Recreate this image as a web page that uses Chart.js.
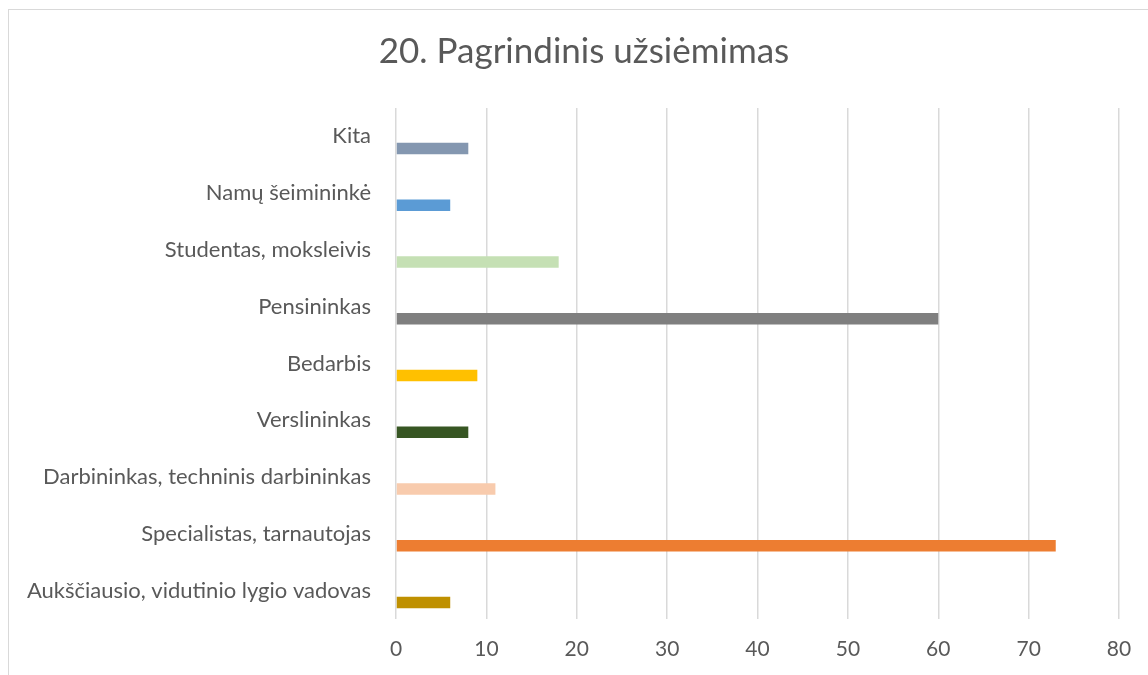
<!DOCTYPE html>
<html>
<head>
<meta charset="utf-8">
<script src="https://cdn.jsdelivr.net/npm/chart.js@4"></script>
<style>
  html, body { margin: 0; padding: 0; background: #fff; overflow: hidden; }
  #frame {
    position: absolute; left: 8px; top: 9px;
    width: 1150px; height: 680px;
    border: 1px solid #D9D9D9; background: #fff;
  }
</style>
</head>
<body>
<div id="frame"><canvas id="chart" width="1150" height="680"></canvas></div>
<script>
// categories top to bottom, as in the picture
const categories = [
    "Kita",
    "Namų šeimininkė",
    "Studentas, moksleivis",
    "Pensininkas",
    "Bedarbis",
    "Verslininkas",
    "Darbininkas, techninis darbininkas",
    "Specialistas, tarnautojas",
    "Aukščiausio, vidutinio lygio vadovas"
];
const values = [8, 6, 18, 60, 9, 8, 11, 73, 6];
const barColors = [
    "#8497B0", "#5B9BD5", "#C5E0B4", "#7F7F7F", "#FFC000",
    "#375623", "#F8CBAD", "#ED7D31", "#BF9000"
];
const xTicks = [0, 10, 20, 30, 40, 50, 60, 70, 80];

const font = "Lato";
const textColor = "#595959";

new Chart(document.getElementById("chart"), {
    type: "bar",
    data: {
        labels: categories,
        datasets: [
            // empty series: keeps the visible bar in the lower slot like the Excel original
            { data: categories.map(() => null), backgroundColor: "rgba(0,0,0,0)" },
            { data: values, backgroundColor: barColors }
        ]
    },
    options: {
        indexAxis: "y",
        responsive: false,
        animation: false,
        categoryPercentage: 0.845,
        barPercentage: 0.48,
        layout: { padding: 0 },
        plugins: {
            legend: { display: false },
            tooltip: { enabled: false },
            title: {
                display: true,
                text: "20. Pagrindinis užsiėmimas",
                color: textColor,
                font: { family: font, size: 35, weight: "normal" },
                padding: { top: 21, bottom: 35 }
            }
        },
        scales: {
            x: {
                min: 0, max: 80,
                afterBuildTicks: s => { s.ticks = xTicks.map(v => ({ value: v })); },
                afterFit: s => { s.height = 71; },
                grid: { color: "#D9D9D9", lineWidth: 1.5, drawTicks: false },
                border: { display: false },
                ticks: {
                    color: textColor, padding: 18,
                    font: { family: font, size: 21 }
                }
            },
            y: {
                afterFit: s => { s.width = 387; },
                grid: { display: false, drawTicks: false },
                border: { display: false },
                ticks: {
                    color: textColor, padding: 25,
                    font: { family: font, size: 22 }
                }
            },
            // empty right-hand axis: only reserves the blank margin right of the plot
            yRight: {
                type: "category",
                position: "right",
                afterFit: s => { s.width = 40; },
                grid: { display: false, drawTicks: false },
                border: { display: false },
                ticks: { display: false }
            }
        }
    }
});
</script>
</body>
</html>
